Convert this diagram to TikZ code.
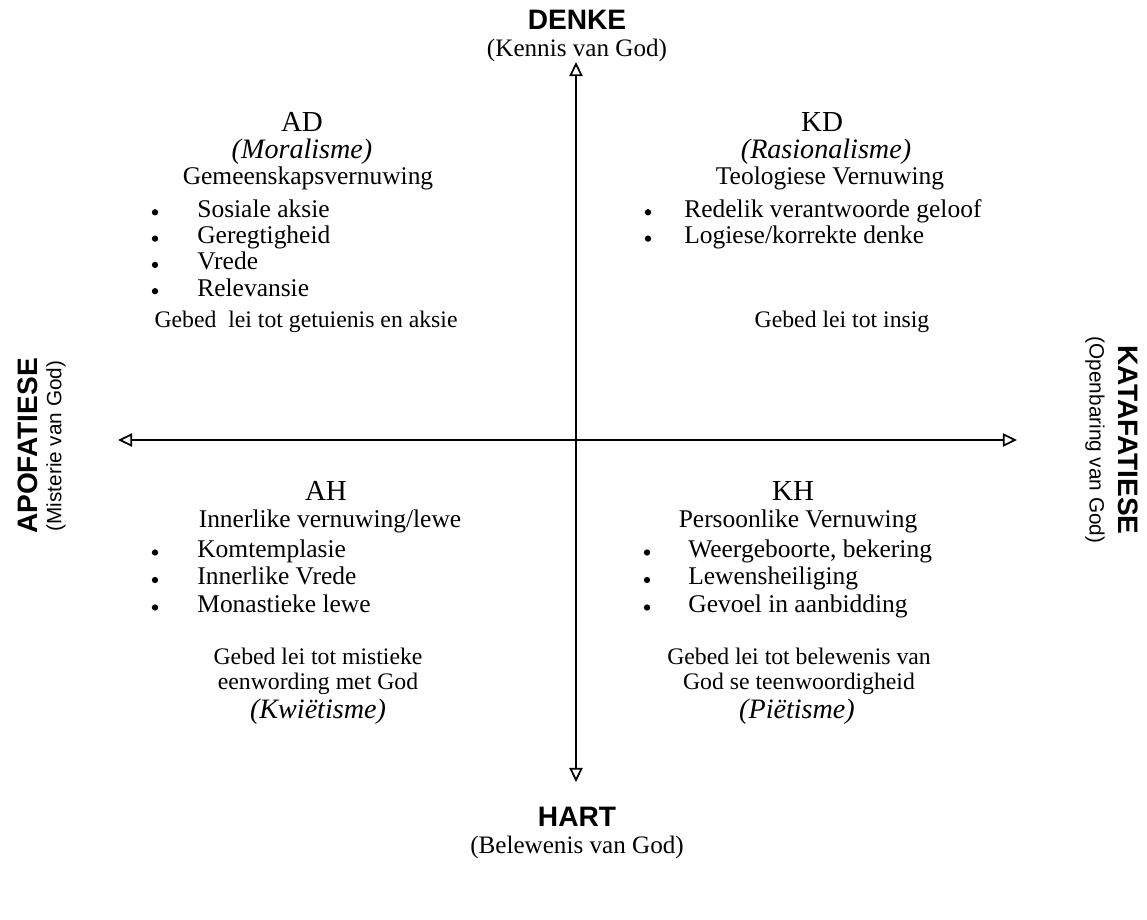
\documentclass[tikz,border=0pt]{standalone}
\usepackage{fontspec}
\setmainfont{Liberation Serif}
\setsansfont{Liberation Sans}
\usetikzlibrary{arrows.meta}

\begin{document}
\begin{tikzpicture}[x=0.02cm, y=-0.02cm,
  pole/.style={font=\sffamily\bfseries\fontsize{16}{18}\selectfont, inner sep=0pt},
  polesub/.style={font=\fontsize{14.3}{16}\selectfont, inner sep=0pt},
  sidesub/.style={font=\sffamily\fontsize{11.8}{14}\selectfont, inner sep=0pt},
  quad/.style={font=\fontsize{16.5}{19}\selectfont, inner sep=0pt},
  school/.style={font=\itshape\fontsize{16}{18}\selectfont, inner sep=0pt},
  body/.style={font=\fontsize{14.5}{17}\selectfont, text height=1.6ex, text depth=.4ex, inner sep=0pt},
  item/.style={body, anchor=west},
  dot/.style={circle, fill, inner sep=0pt, minimum size=3.6pt},
  prayer/.style={font=\fontsize{13.5}{16}\selectfont, text height=1.6ex, text depth=.4ex, inner sep=0pt},
  axis/.style={line width=1pt, {Triangle[open,length=8pt,width=7.5pt]}-{Triangle[open,length=8pt,width=7.5pt]}}]
  \useasboundingbox (0,0) rectangle (1147,920);

  % poles
  \node[pole] (denke) at (577,20) {DENKE};
  \node[polesub] (denkesub) at (577,50) {(Kennis van God)};
  \node[pole] (hart) at (577,817) {HART};
  \node[polesub] (hartsub) at (577,847) {(Belewenis van God)};
  \node[pole, rotate=90] (apo) at (28,446) {APOFATIESE};
  \node[sidesub, rotate=90] (aposub) at (56,446) {(Misterie van God)};
  \node[pole, rotate=-90] (kata) at (1128,440) {KATAFATIESE};
  \node[sidesub, rotate=-90] (katasub) at (1095,440) {(Openbaring van God)};

  % axes
  \coordinate (top) at (576,62);
  \coordinate (bottom) at (576,782);
  \coordinate (left) at (118,440);
  \coordinate (right) at (1017,440);
  \draw[axis] (bottom) -- (top);
  \draw[axis] (left) -- (right);

  % AD
  \node[quad] (ad) at (302,122) {AD};
  \node[school] (adschool) at (302,152) {(Moralisme)};
  \node[body] (adtitle) at (308,180) {Gemeenskapsvernuwing};
  \foreach \t [count=\i] in {Sosiale aksie, Geregtigheid, Vrede, Relevansie} {
    \node[item] (ad\i) at (197,{186+26.3*\i}) {\t};
    \node[dot] (adb\i) at (155,{186+26.3*\i}) {};
  }
  \node[prayer] (adprayer) at (306,323) {Gebed\ \ lei tot getuienis en aksie};

  % KD
  \node[quad] (kd) at (822,122) {KD};
  \node[school] (kdschool) at (826,152) {(Rasionalisme)};
  \node[body] (kdtitle) at (830,180) {Teologiese Vernuwing};
  \foreach \t [count=\i] in {Redelik verantwoorde geloof, Logiese/korrekte denke} {
    \node[item] (kd\i) at (684,{186+26.3*\i}) {\t};
    \node[dot] (kdb\i) at (648,{186+26.3*\i}) {};
  }
  \node[prayer] (kdprayer) at (842,323) {Gebed lei tot insig};

  % AH
  \node[quad] (ah) at (326,491) {AH};
  \node[body] (ahtitle) at (330,523) {Innerlike vernuwing/lewe};
  \foreach \t [count=\i] in {Komtemplasie, Innerlike Vrede, Monastieke lewe} {
    \node[item] (ah\i) at (197,{525+27.5*\i}) {\t};
    \node[dot] (ahb\i) at (155,{525+27.5*\i}) {};
  }
  \node[prayer] (ahprayer1) at (318,660) {Gebed lei tot mistieke};
  \node[prayer] (ahprayer2) at (318,685) {eenwording met God};
  \node[school] (ahschool) at (318,712) {(Kwiëtisme)};

  % KH
  \node[quad] (kh) at (793,491) {KH};
  \node[body] (khtitle) at (798,523) {Persoonlike Vernuwing};
  \foreach \t [count=\i] in {{Weergeboorte, bekering}, Lewensheiliging, Gevoel in aanbidding} {
    \node[item] (kh\i) at (688,{525+27.5*\i}) {\t};
    \node[dot] (khb\i) at (647,{525+27.5*\i}) {};
  }
  \node[prayer] (khprayer1) at (799,660) {Gebed lei tot belewenis van};
  \node[prayer] (khprayer2) at (799,685) {God se teenwoordigheid};
  \node[school] (khschool) at (797,712) {(Piëtisme)};
\end{tikzpicture}
\end{document}
